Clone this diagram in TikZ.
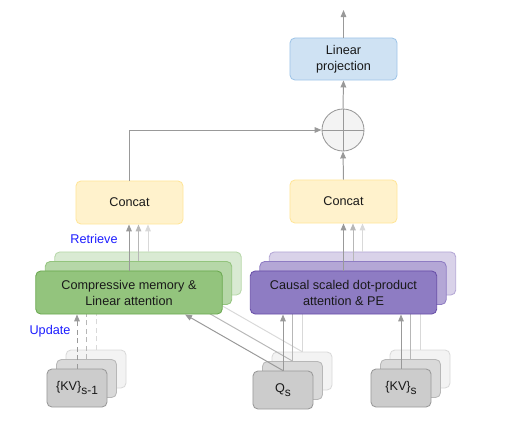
\documentclass[tikz,border=0pt]{standalone}
\usepackage{fontspec}
\setmainfont{Liberation Sans}
\usetikzlibrary{arrows.meta,calc}

\definecolor{projfill}{HTML}{CFE2F3}
\definecolor{projline}{HTML}{9FC5E8}
\definecolor{catfill}{HTML}{FFF2CC}
\definecolor{catline}{HTML}{FFE599}
\definecolor{memA}{HTML}{93C47D}
\definecolor{memAline}{HTML}{6AA84F}
\definecolor{memB}{HTML}{B6D7A8}
\definecolor{memC}{HTML}{D9EAD3}
\definecolor{attA}{HTML}{8E7CC3}
\definecolor{attAline}{HTML}{674EA7}
\definecolor{attB}{HTML}{B4A7D6}
\definecolor{attC}{HTML}{D9D2E9}
\definecolor{tokA}{HTML}{CCCCCC}
\definecolor{tokB}{HTML}{D9D9D9}
\definecolor{tokC}{HTML}{F3F3F3}
\definecolor{lineA}{HTML}{999999}
\definecolor{lineB}{HTML}{B7B7B7}
\definecolor{lineC}{HTML}{D9D9D9}
\definecolor{labelblue}{HTML}{1C1CFF}

\newcommand{\seg}[1]{\raisebox{-0.55ex}{\fontsize{8.5}{8.5}\selectfont #1}}

\begin{document}
\begin{tikzpicture}[
    x=0.025cm, y=-0.025cm,
    font=\fontsize{9}{11.4}\selectfont,
    block/.style={rectangle, rounded corners=3.5pt, align=center, line width=0.6pt, text=black!90},
    proj/.style={block, draw=projline, fill=projfill, minimum width=2.675cm, minimum height=1.05cm},
    concat/.style={block, draw=catline, fill=catfill, minimum width=2.675cm, minimum height=1.075cm},
    layer/.style={block, minimum width=4.66cm, minimum height=1.075cm},
    token/.style={block, minimum width=1.5cm, minimum height=0.95cm},
    sum/.style={circle, draw=lineA, fill=tokC, line width=0.6pt, minimum size=1.05cm, inner sep=0pt},
    arrow/.style={-{Triangle[length=5pt,width=4pt]}, line width=0.7pt},
    front/.style={draw=lineA},
    mid/.style={draw=lineB},
    back/.style={draw=lineC},
    upd/.style={dash pattern=on 3.5pt off 2.5pt}
]
\useasboundingbox (0,0) rectangle (512,434);

\node[proj] (proj) at (343.5,59) {Linear\\projection};
\node[sum] (sum) at (343,130) {};
\draw[front, line width=0.6pt] (sum.north) -- (sum.south);
\draw[front, line width=0.6pt] (sum.west) -- (sum.east);
\node[concat] (cat1) at (129.5,202.5) {Concat};
\node[concat] (cat2) at (343.5,201.5) {Concat};
\coordinate (out) at (343.5,10);

\draw[arrow, front] (proj.north) -- (out);
\draw[arrow, front] (sum.north) -- (proj.south);
\draw[arrow, front] (cat2.north) -- (sum.south);
\draw[arrow, front] (cat1.north) |- (sum.west);

\node[layer, fill=memC, draw=memB] (mem3) at (148,273.5) {};
\node[layer, fill=attC, draw=attB] (att3) at (362.5,273.5) {};
\node[token, fill=tokC, draw=tokB] (kvp3) at (96,369) {};
\node[token, fill=tokC, draw=tokB] (q3) at (302,371) {};
\node[token, fill=tokC, draw=tokB] (kv3) at (420,369) {};

\draw[arrow, back] (mem3.north) -- (mem3.north |- cat1.south);
\draw[arrow, back] (att3.north) -- (att3.north |- cat2.south);
\draw[arrow, back, upd] (kvp3.north) -- (kvp3.north |- mem3.south);
\draw[arrow, back] (q3.north) -- (q3.north |- att3.south);
\draw[arrow, back] (q3.north) -- ($(mem3.south)+(56,0)$);
\draw[arrow, back] (kv3.north) -- (kv3.north |- att3.south);

\node[layer, fill=memB, draw=memA] (mem2) at (138.5,283) {};
\node[layer, fill=attB, draw=attA] (att2) at (353,283) {};
\node[token, fill=tokB, draw=lineB] (kvp2) at (86.5,378.5) {};
\node[token, fill=tokB, draw=lineB] (q2) at (292.5,380.5) {};
\node[token, fill=tokB, draw=lineB] (kv2) at (410.5,378.5) {};

\draw[arrow, mid] (mem2.north) -- (mem2.north |- cat1.south);
\draw[arrow, mid] (att2.north) -- (att2.north |- cat2.south);
\draw[arrow, mid, upd] (kvp2.north) -- (kvp2.north |- mem2.south);
\draw[arrow, mid] (q2.north) -- (q2.north |- att2.south);
\draw[arrow, mid] (q2.north) -- ($(mem2.south)+(56,0)$);
\draw[arrow, mid] (kv2.north) -- (kv2.north |- att2.south);

\node[layer, fill=memA, draw=memAline] (mem) at (129,292.5) {Compressive memory \&\\Linear attention};
\node[layer, fill=attA, draw=attAline] (att) at (343.5,292.5) {Causal scaled dot-product\\attention \& PE};
\node[token, fill=tokA, draw=lineA] (kvp) at (77,388) {\{KV\}\seg{s-1}};
\node[token, fill=tokA, draw=lineA] (q) at (283,390) {Q\seg{s}};
\node[token, fill=tokA, draw=lineA] (kv) at (401,388) {\{KV\}\seg{s}};

\draw[arrow, front] (mem.north) -- (mem.north |- cat1.south);
\draw[arrow, front] (att.north) -- (att.north |- cat2.south);
\draw[arrow, front, upd] (kvp.north) -- (kvp.north |- mem.south);
\draw[arrow, front] (q.north) -- (q.north |- att.south);
\draw[arrow, front] (q.north) -- ($(mem.south)+(56,0)$);
\draw[arrow, front] (kv.north) -- (kv.north |- att.south);

\node[text=labelblue] (retrieve) at (94,239) {Retrieve};
\node[text=labelblue] (update) at (50,331) {Update};
\end{tikzpicture}
\end{document}
